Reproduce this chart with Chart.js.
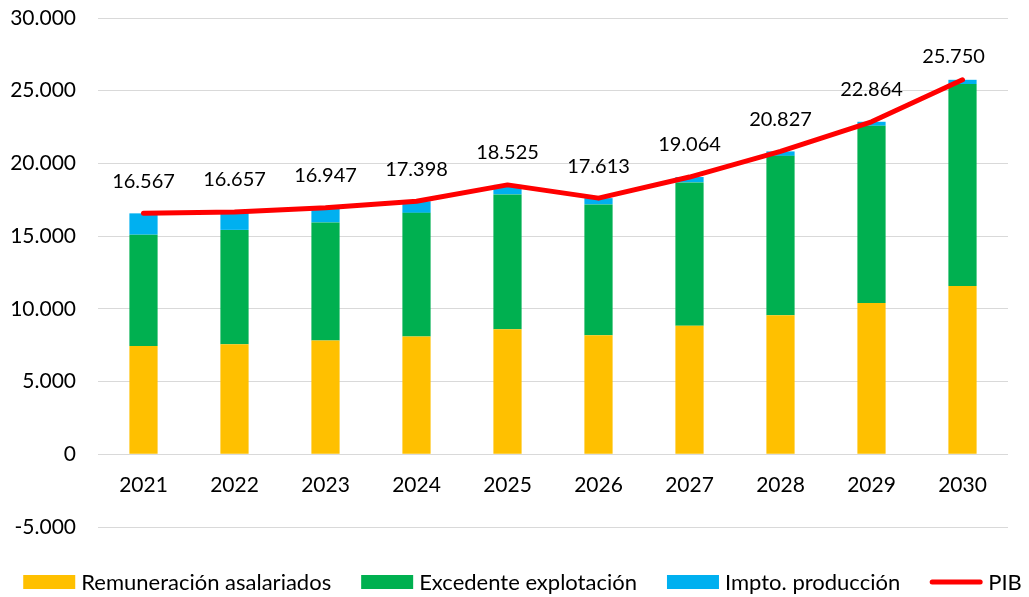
<!DOCTYPE html>
<html>
<head>
<meta charset="utf-8">
<script src="https://cdn.jsdelivr.net/npm/chart.js@4/dist/chart.umd.min.js"></script>
<style>
  body { margin: 0; background: #fff; }
  #grafico { display: block; }
</style>
</head>
<body>
<canvas id="grafico" width="1029" height="597"></canvas>
<script>
const anios = ['2021', '2022', '2023', '2024', '2025', '2026', '2027', '2028', '2029', '2030'];
const remuneracion = [7450, 7570, 7820, 8100, 8600, 8190, 8830, 9560, 10410, 11580];
const excedente = [7650, 7860, 8120, 8500, 9270, 8990, 9865, 10960, 12180, 13880];
const impuestos = [1467, 1227, 1007, 798, 655, 433, 369, 307, 274, 290];
const pib = [16567, 16657, 16947, 17398, 18525, 17613, 19064, 20827, 22864, 25750];

const yMin = -5000, yMax = 30000, yStep = 5000;

// miles con punto, como en el original
function miles(v) {
    return String(v).replace(/\B(?=(\d{3})+(?!\d))/g, '.');
}

const FUENTE = 'Lato';
Chart.defaults.font.family = FUENTE;
Chart.defaults.font.size = 21;
Chart.defaults.color = '#000';

// etiquetas encima de la linea del PIB
const etiquetasPib = {
    id: 'etiquetasPib',
    afterDatasetsDraw(chart) {
        const idx = chart.data.datasets.findIndex(d => d.type === 'line');
        const meta = chart.getDatasetMeta(idx);
        const ctx = chart.ctx;
        ctx.save();
        ctx.font = '20px ' + FUENTE;
        ctx.fillStyle = '#000';
        ctx.textAlign = 'center';
        ctx.textBaseline = 'middle';
        meta.data.forEach((pt, i) => {
            let dx = 0, dy = -32;
            if (i === meta.data.length - 1) { dx = -9; dy = -23; }
            ctx.fillText(miles(chart.data.datasets[idx].data[i]), pt.x + dx, pt.y + dy);
        });
        ctx.restore();
    }
};

// leyenda inferior dibujada a mano (cajas anchas y linea para el PIB)
const leyenda = {
    id: 'leyenda',
    afterDraw(chart) {
        const ctx = chart.ctx;
        const boxW = 52, boxH = 14, gap = 6, sep = 30, yc = 582;
        ctx.save();
        ctx.font = '22px ' + FUENTE;
        ctx.textBaseline = 'middle';
        const items = chart.data.datasets.map(d => ({
            text: d.label, color: d.type === 'line' ? d.borderColor : d.backgroundColor, linea: d.type === 'line'
        }));
        const anchos = items.map(it => boxW + gap + ctx.measureText(it.text).width);
        const total = anchos.reduce((a, b) => a + b, 0) + sep * (items.length - 1);
        let x = (chart.width - total) / 2 + 8;
        items.forEach((it, i) => {
            if (it.linea) {
                ctx.strokeStyle = it.color;
                ctx.lineWidth = 5;
                ctx.lineCap = 'round';
                ctx.beginPath();
                ctx.moveTo(x + 2, yc);
                ctx.lineTo(x + boxW - 2, yc);
                ctx.stroke();
            } else {
                ctx.fillStyle = it.color;
                ctx.fillRect(x, yc - boxH / 2, boxW, boxH);
            }
            ctx.fillStyle = '#000';
            ctx.fillText(it.text, x + boxW + gap, yc + 1);
            x += anchos[i] + sep;
        });
        ctx.restore();
    }
};

const ctx = document.getElementById('grafico');

const grafico = new Chart(ctx, {
    type: 'bar',
    data: {
        labels: anios,
        datasets: [
            {
                label: 'Remuneración asalariados',
                data: remuneracion,
                backgroundColor: '#FFC000',
                order: 1
            },
            {
                label: 'Excedente explotación',
                data: excedente,
                backgroundColor: '#00B050',
                order: 1
            },
            {
                label: 'Impto. producción',
                data: impuestos,
                backgroundColor: '#00B0F0',
                order: 1
            },
            {
                type: 'line',
                label: 'PIB',
                data: pib,
                borderColor: '#FF0000',
                backgroundColor: '#FF0000',
                borderWidth: 5,
                pointRadius: 0,
                tension: 0,
                borderCapStyle: 'round',
                borderJoinStyle: 'round',
                stack: 'pib',
                order: 0
            }
        ]
    },
    options: {
        responsive: false,
        animation: false,
        layout: {
            padding: { left: 0, right: 21, top: 18, bottom: 70 }
        },
        datasets: {
            bar: { categoryPercentage: 1, barPercentage: 0.31 }
        },
        scales: {
            x: {
                stacked: true,
                position: { y: 0 },
                afterFit: scale => {
                    scale.height = 0;
                    scale.paddingTop = 0;
                    scale.paddingBottom = 0;
                },
                grid: { display: false, drawTicks: false },
                border: { display: false },
                ticks: { padding: 18, maxRotation: 0 }
            },
            y: {
                stacked: true,
                min: yMin,
                max: yMax,
                afterFit: scale => {
                    scale.width = 98;
                    scale.paddingTop = 0;
                    scale.paddingBottom = 0;
                },
                ticks: {
                    stepSize: yStep,
                    padding: 22,
                    callback: v => miles(v)
                },
                grid: { color: '#D9D9D9', lineWidth: 1, drawTicks: false },
                border: { display: false }
            }
        },
        plugins: {
            legend: { display: false },
            tooltip: { enabled: false }
        }
    },
    plugins: [etiquetasPib, leyenda]
});
</script>
</body>
</html>
